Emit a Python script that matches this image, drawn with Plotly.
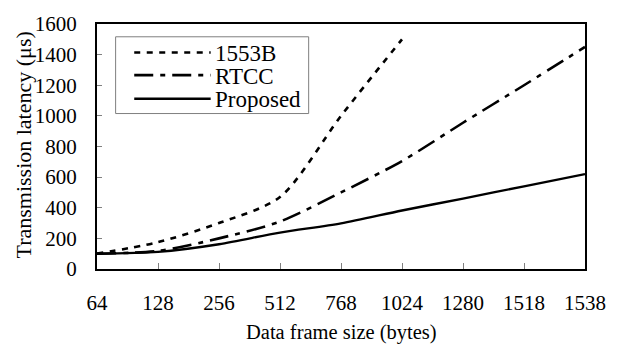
import plotly.graph_objects as go

categories = ["64", "128", "256", "512", "768", "1024", "1280", "1518", "1538"]
lat_1553b = [100, 175, 300, 470, 1000, 1500]
lat_rtcc = [100, 118, 200, 310, 500, 705, 955, 1200, 1450]
lat_proposed = [100, 112, 162, 238, 298, 382, 460, 540, 620]
y_ticks = [0, 200, 400, 600, 800, 1000, 1200, 1400, 1600]

FONT = "Liberation Serif"
W, H = 618, 345
L, R, T, B = 97, 595, 20, 269

fig = go.Figure()
fig.add_trace(go.Scatter(x=categories[:len(lat_1553b)], y=lat_1553b, mode="lines",
                         line=dict(color="black", width=2.6, dash="6px,6.5px", shape="spline", smoothing=0.8),
                         showlegend=False))
fig.add_trace(go.Scatter(x=categories, y=lat_rtcc, mode="lines",
                         line=dict(color="black", width=2.6, dash="19px,7px,5px,7px", shape="spline", smoothing=0.8),
                         showlegend=False))
fig.add_trace(go.Scatter(x=categories, y=lat_proposed, mode="lines",
                         line=dict(color="black", width=2.4, shape="spline", smoothing=0.8),
                         showlegend=False))

def px(xp):
    return (xp - L) / (R - L)

def py(yp):
    return (B - yp) / (B - T)

shapes = [dict(type="rect", xref="paper", yref="paper", x0=px(116), x1=px(313), y0=py(111), y1=py(33),
               line=dict(color="#7f7f7f", width=1), fillcolor="white")]
legend_items = [("1553B", "6px,6.5px", 49), ("RTCC", "19px,7px,5px,7px", 72), ("Proposed", "solid", 96)]
annotations = []
for name, dash, yy in legend_items:
    shapes.append(dict(type="line", xref="paper", yref="paper", x0=px(135), x1=px(213), y0=py(yy), y1=py(yy),
                       line=dict(color="black", width=2.6, dash=dash)))
    annotations.append(dict(text=name, xref="paper", yref="paper", x=px(215), y=py(yy + 1), xanchor="left",
                            yanchor="middle", showarrow=False, font=dict(family=FONT, size=23, color="black")))

annotations.append(dict(text="Data frame size (bytes)", xref="paper", yref="paper", x=px(346), y=py(334),
                        xanchor="center", yanchor="middle", showarrow=False,
                        font=dict(family=FONT, size=20.5, color="black")))
annotations.append(dict(text="Transmission latency (μs)", xref="paper", yref="paper", x=px(22), y=py(143),
                        xanchor="center", yanchor="middle", textangle=-90, showarrow=False,
                        font=dict(family=FONT, size=22, color="black")))

fig.update_layout(
    width=W, height=H,
    margin=dict(l=L, r=W - R, t=T, b=H - B),
    paper_bgcolor="white", plot_bgcolor="white",
    font=dict(family=FONT, size=21, color="black"),
    shapes=shapes, annotations=annotations,
    showlegend=False,
)
fig.update_xaxes(type="category", range=[0, len(categories) - 1], showgrid=False,
                 showline=True, linecolor="black", linewidth=2, mirror=True,
                 ticks="inside", ticklen=6, tickcolor="#808080", tickwidth=1,
                 ticklabelstandoff=14, tickfont=dict(family=FONT, size=21, color="black"))
fig.update_yaxes(range=[0, 1600], tickvals=y_ticks, showgrid=False, zeroline=False,
                 showline=True, linecolor="black", linewidth=2, mirror=True,
                 ticks="inside", ticklen=5, tickcolor="#808080", tickwidth=1,
                 ticklabelstandoff=14, tickfont=dict(family=FONT, size=21, color="black"))

fig.write_html("out.html")
